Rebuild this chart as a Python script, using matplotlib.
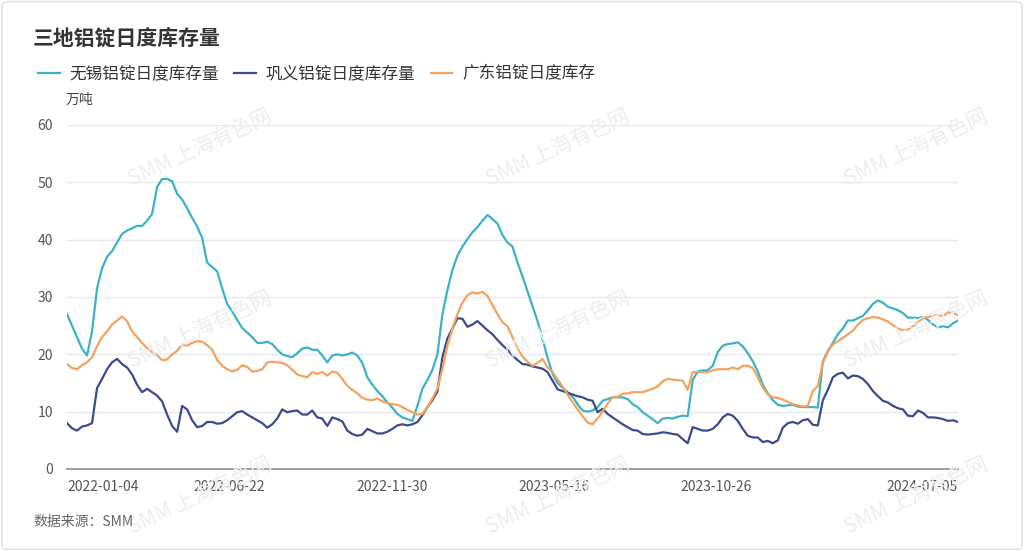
import numpy as np
import matplotlib
matplotlib.use("Agg")
import matplotlib.pyplot as plt
from matplotlib.patches import FancyBboxPatch

plt.rcParams['font.family'] = ['Noto Sans CJK SC', 'DejaVu Sans']

# x axis: trading-day categories, labels shown every 111 days
tick_pos = [0, 111, 222, 333, 444, 609]
tick_labels = ['2022-01-04', '2022-06-22', '2022-11-30', '2023-05-16', '2023-10-26', '2024-07-05']
n_days = 609

# 万吨, sampled evenly across the period
wuxi = [27, 25, 23, 21, 19.8, 24, 31.5, 35, 37, 38, 39.5, 41, 41.6, 42, 42.4, 42.4, 43.3, 44.5, 49.2, 50.6,
        50.6, 50.2, 48, 47, 45.5, 43.8, 42.3, 40.3, 36,
        35.2, 34.5, 31.5, 28.8, 27.5, 26, 24.6, 23.8, 23, 22, 22, 22.2, 21.8, 20.8, 20, 19.7, 19.5, 20.2, 21, 21.2,
        20.8, 20.8, 19.8, 18.6, 19.8, 20, 19.8, 20, 20.3, 19.8,
        18.5, 16, 14.7, 13.6, 12.7, 11.6, 10.7, 9.6, 9, 8.7, 8.4, 11, 14, 15.5, 17.3, 20, 27, 31.2, 34.7, 37.2,
        38.8, 40.1, 41.3, 42.2, 43.3, 44.3, 43.6, 42.8, 40.8, 39.5,
        38.8, 36, 33.6, 31, 28.4, 25.8, 22.7, 19.4, 16.6, 15, 14.2, 13.4, 12.6, 11.3, 10.2, 10, 10.2, 10.8, 11.9, 12.2,
        12.5, 12.5, 12.5, 12.2, 11.3, 10.8, 9.9, 9.3, 8.7, 8,
        8.8, 8.9, 8.8, 9.1, 9.3, 9.2, 15.5, 17, 17.2, 17.2, 18, 20.4, 21.5, 21.8, 21.9, 22.1, 21.4, 20.2, 18.8, 17,
        14.7, 13.2, 12, 11.2, 11, 11.1, 11.2, 10.9, 10.8, 10.8,
        10.8, 10.7, 18.8, 20.6, 22, 23.5, 24.5, 25.9, 25.9, 26.3, 26.7, 27.7, 28.8, 29.4, 29, 28.3, 28, 27.7, 27.2, 26.4,
        26.4, 26.3, 26.5, 26, 25.2, 24.7, 24.9, 24.7, 25.4, 25.9]

gongyi = [8, 7.1, 6.7, 7.4, 7.6, 8, 14.1, 15.7, 17.4, 18.6, 19.2, 18.3, 17.7, 16.5, 14.7, 13.4, 14, 13.4, 12.8, 11.8,
          9.5, 7.5, 6.5, 11, 10.4, 8.5, 7.3, 7.5, 8.2,
          8.2, 7.9, 8, 8.5, 9.2, 9.9, 10.1, 9.5, 9, 8.5, 8, 7.2, 7.8, 8.8, 10.4, 9.9, 10.1, 10.2, 9.5, 9.5,
          10.2, 9, 8.8, 7.5, 9, 8.7, 8.3, 6.7, 6.1, 5.8,
          6, 7, 6.6, 6.2, 6.2, 6.5, 7, 7.6, 7.8, 7.6, 7.8, 8.2, 9.4, 10.8, 12, 13.5, 19.5, 22.8, 24.5, 26.3,
          26.2, 24.8, 25.2, 25.8, 25, 24.2, 23.5, 22.5, 21.6, 20.8,
          19.8, 19, 18.3, 18.2, 17.9, 17.7, 17.5, 16.9, 15.4, 13.9, 13.6, 13.3, 13, 12.7, 12.5, 12.1, 11.9, 9.9, 10.5, 9.6,
          9, 8.4, 7.8, 7.3, 6.8, 6.7, 6.1, 6, 6.1, 6.2,
          6.4, 6.3, 6.1, 6, 5.2, 4.5, 7.3, 7, 6.7, 6.7, 7, 7.8, 9, 9.6, 9.3, 8.4, 7, 5.8, 5.5, 5.5,
          4.7, 4.9, 4.5, 5, 7.2, 8, 8.2, 7.9, 8.5, 8.7,
          7.7, 7.6, 12, 13.8, 16, 16.6, 16.8, 15.8, 16.3, 16.2, 15.7, 14.8, 13.6, 12.7, 11.9, 11.6, 11, 10.6, 10.4, 9.3,
          9.2, 10.2, 9.8, 9, 9, 8.9, 8.7, 8.4, 8.5, 8.2]

guangdong = [18.3, 17.6, 17.4, 18.1, 18.6, 19.5, 21.4, 23, 24, 25.2, 25.9, 26.6, 25.8, 24, 23, 22, 21.1, 20.4, 19.8, 19,
             19.1, 20, 20.6, 21.7, 21.5, 22, 22.3, 22.2, 21.6,
             20.8, 19, 18, 17.4, 17, 17.3, 18.1, 17.8, 17, 17.1, 17.4, 18.6, 18.7, 18.6, 18.5, 18.1, 17.3, 16.5, 16.2, 16,
             16.9, 16.6, 16.9, 16.3, 17, 16.8, 15.7, 14.5, 13.8, 13.2,
             12.4, 12.1, 12, 12.3, 11.8, 11.5, 11.3, 11.2, 10.8, 10.3, 9.9, 9.5, 9.6, 10.8, 12.3, 14, 17.5, 21.5, 24.5, 27,
             29, 30.3, 30.8, 30.6, 30.9, 30.2, 28.6, 27, 25.6, 24.9,
             23, 21, 19.6, 18.7, 18, 18.5, 19.2, 17.7, 16.9, 15.6, 14.4, 13, 11.6, 10.4, 9.2, 8.1, 7.8, 8.8, 10, 11.4,
             12.5, 12.6, 13.1, 13.2, 13.4, 13.4, 13.4, 13.7, 14, 14.4,
             15.3, 15.7, 15.6, 15.5, 15.4, 13.8, 16.9, 16.9, 16.9, 16.9, 17.2, 17.4, 17.4, 17.4, 17.7, 17.4, 18, 18, 17.6, 16,
             14.2, 13, 12.5, 12.4, 12.1, 11.7, 11.3, 11.1, 10.9, 11,
             13.6, 14.5, 18.5, 20.5, 21.7, 22.3, 22.9, 23.5, 24.1, 25.2, 26, 26.3, 26.5, 26.4, 26.1, 25.7, 25.1, 24.5, 24.2, 24.3,
             24.9, 25.6, 26.3, 26.5, 26.7, 26.9, 26.6, 27.3, 27.3, 26.8]

series = [
    ('无锡铝锭日度库存量', wuxi, '#3cb2c9'),
    ('巩义铝锭日度库存量', gongyi, '#3d4a8e'),
    ('广东铝锭日度库存', guangdong, '#f3a35c'),
]

fig = plt.figure(figsize=(10.24, 5.51), dpi=100)
ax = fig.add_axes([67 / 1024, 1 - 469 / 551, 891 / 1024, 344 / 551])

# watermark
for wx in [200, 558, 916]:
    for wy in [148, 330, 496]:
        fig.text(wx / 1024, 1 - wy / 551, 'SMM 上海有色网', fontsize=15, color='#eeeeee',
                 rotation=25, ha='center', va='center', zorder=0)

for name, vals, color in series:
    x = np.linspace(0, n_days, len(vals))
    ax.plot(x, vals, color=color, linewidth=1.6, label=name, zorder=3)

ax.set_xlim(0, n_days)
ax.set_ylim(0, 60)
ax.set_yticks(range(0, 61, 10))
ax.set_xticks(tick_pos)
ax.set_xticklabels(tick_labels)
lbls = ax.get_xticklabels()
lbls[0].set_ha('left')
lbls[-1].set_ha('right')
ax.tick_params(axis='both', length=0, labelsize=10, labelcolor='#555555')
ax.tick_params(axis='y', pad=10)
ax.tick_params(axis='x', pad=8)
ax.grid(axis='y', color='#e6e9f0', linewidth=1)
ax.set_axisbelow(True)
for s in ['top', 'right', 'left']:
    ax.spines[s].set_visible(False)
ax.spines['bottom'].set_color('#8a8d96')
ax.spines['bottom'].set_linewidth(1.2)
ax.set_facecolor('none')

fig.text(33 / 1024, 1 - 38 / 551, '三地铝锭日度库存量', fontsize=15, fontweight='bold',
         color='#333333', va='center', ha='left')
fig.text(66 / 1024, 1 - 100 / 551, '万吨', fontsize=10, color='#444444', va='center', ha='left')
fig.text(33 / 1024, 1 - 522 / 551, '数据来源：SMM', fontsize=10, color='#666666', va='center', ha='left')

leg = ax.legend(loc='center left', bbox_to_anchor=(38 / 1024, 1 - 74 / 551), bbox_transform=fig.transFigure,
                ncol=3, frameon=False, fontsize=12, handlelength=1.3, handletextpad=0.6,
                columnspacing=0.9, borderaxespad=0, borderpad=0)
for t in leg.get_texts():
    t.set_color('#333333')

fig.patches.append(FancyBboxPatch((0.002, 0.003), 0.996, 0.994, boxstyle='round,pad=0,rounding_size=0.006',
                                  transform=fig.transFigure, fill=False, edgecolor='#e3e3ee', linewidth=1.2))

fig.savefig('out.png', dpi=100, facecolor='white')
